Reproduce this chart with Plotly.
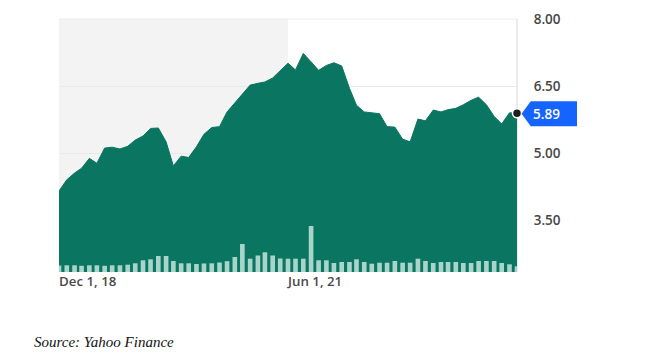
import pandas as pd
import plotly.graph_objects as go

# ---- data ----
start_month = "2018-12-01"
n_months = 61
price = [4.15, 4.40, 4.55, 4.66, 4.88, 4.77, 5.11, 5.13, 5.09, 5.15,
         5.29, 5.38, 5.55, 5.56, 5.25, 4.71, 4.93, 4.90, 5.14, 5.42,
         5.57, 5.59, 5.92, 6.13, 6.32, 6.52, 6.56, 6.59, 6.68, 6.85,
         7.01, 6.86, 7.23, 7.04, 6.85, 6.96, 7.02, 6.95, 6.45, 6.07,
         5.92, 5.90, 5.88, 5.59, 5.58, 5.31, 5.25, 5.76, 5.72, 5.96,
         5.92, 5.97, 6.00, 6.08, 6.18, 6.25, 6.08, 5.82, 5.65, 5.90,
         5.89]
volume = [6.5, 6.7, 6.7, 6.2, 6.7, 6.7, 6.2, 6.7, 6.7, 7.3,
          8.7, 11.7, 12.7, 16.0, 16.0, 11.0, 8.7, 8.7, 8.0, 8.5,
          8.7, 9.5, 10.8, 15.0, 28.0, 13.3, 16.5, 19.7, 16.5, 13.5,
          13.3, 13.3, 13.3, 46.0, 11.7, 11.7, 9.0, 10.0, 10.0, 12.7,
          10.0, 8.3, 9.3, 9.3, 11.0, 9.3, 9.3, 13.3, 11.0, 9.0,
          10.0, 10.0, 10.0, 9.0, 9.0, 11.0, 11.0, 11.0, 9.0, 7.7,
          5.7]
x_ticks = ["2018-12-01", "2021-06-01"]
x_tick_labels = ["Dec 1, 18", "Jun 1, 21"]
y_ticks = [3.5, 5.0, 6.5, 8.0]
y_tick_labels = ["3.50", "5.00", "6.50", "8.00"]
last_label = "5.89"
source_text = "Source: Yahoo Finance"

dates = pd.date_range(start_month, periods=n_months, freq="MS")

GREEN = "#0a7560"
BAR = "#a8d4ca"
BLUE = "#1564ff"

fig = go.Figure()
fig.add_trace(go.Scatter(x=dates, y=price, mode="lines", fill="tozeroy",
                         line=dict(color=GREEN, width=1), fillcolor=GREEN,
                         hoverinfo="skip", showlegend=False))
fig.add_trace(go.Bar(x=dates, y=volume, marker=dict(color=BAR, line=dict(width=0)),
                     yaxis="y2", showlegend=False, hoverinfo="skip"))
fig.add_trace(go.Scatter(x=[dates[-1]], y=[price[-1]], mode="markers",
                         marker=dict(color="#1e1e1e", size=9, line=dict(color="white", width=1.5)),
                         cliponaxis=False, showlegend=False, hoverinfo="skip"))

fig.update_layout(
    width=655, height=361,
    margin=dict(l=51, r=146, t=11, b=97),
    paper_bgcolor="white", plot_bgcolor="white",
    bargap=0.34,
    font=dict(family="Open Sans", color="#464646"),
    xaxis=dict(type="date", range=[dates[0], dates[-1]],
               tickvals=x_ticks, ticktext=x_tick_labels,
               ticklabelposition="outside right", automargin=False,
               showgrid=False, zeroline=False, showline=False, ticks="",
               tickfont=dict(size=13.3, color="#4a4a4a", weight=600)),
    yaxis=dict(range=[2.336, 8.0], side="right", tickvals=y_ticks,
               ticktext=y_tick_labels, showgrid=True, gridcolor="#e9e9e9",
               gridwidth=1, zeroline=False, showline=False, automargin=False,
               ticks="outside", ticklen=13, tickcolor="rgba(0,0,0,0)",
               tickfont=dict(size=13.5, color="#464646", weight=600)),
    yaxis2=dict(range=[0, 253], overlaying="y", visible=False, automargin=False),
    shapes=[
        dict(type="rect", xref="x", yref="paper", x0=dates[0], x1=x_ticks[1],
             y0=0, y1=1, fillcolor="#f4f3f4", line=dict(width=0), layer="below"),
        dict(type="line", xref="paper", yref="paper", x0=0, x1=1, y0=1, y1=1,
             line=dict(color="#ececec", width=1), layer="below"),
        dict(type="line", xref="paper", yref="paper", x0=1, x1=1, y0=0, y1=1,
             line=dict(color="#d6d6d6", width=1), layer="below"),
        dict(type="path", xref="paper", yref="y",
             path="M 1.010,5.88 L 1.030,6.16 L 1.131,6.16 L 1.131,5.60 L 1.030,5.60 Z",
             fillcolor=BLUE, line=dict(width=0), layer="above"),
    ],
    annotations=[
        dict(xref="paper", yref="y", x=1.030, y=5.88, text=last_label,
             showarrow=False, xanchor="left", yanchor="middle",
             font=dict(size=13.5, color="white", family="Open Sans", weight=600)),
        dict(xref="paper", yref="paper", x=-0.058, y=-0.275, text=source_text,
             showarrow=False, xanchor="left", yanchor="middle",
             font=dict(size=15, color="#111111", family="Liberation Serif", style="italic")),
    ],
)

fig.write_html("out.html")
